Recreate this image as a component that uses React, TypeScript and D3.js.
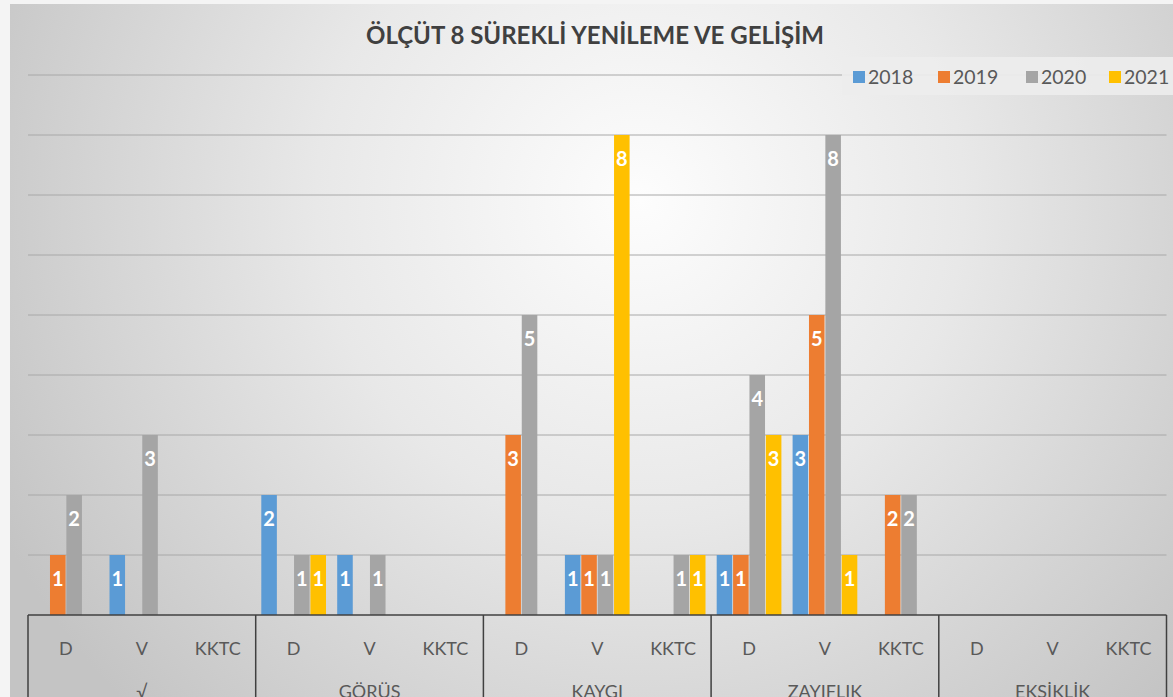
import React from "react";
import * as d3 from "d3";

const TITLE = "ÖLÇÜT 8 SÜREKLİ YENİLEME VE GELİŞİM";
const groups = ["√", "GÖRÜŞ", "KAYGI", "ZAYIFLIK", "EKSİKLİK"];
const subs = ["D", "V", "KKTC"];
const seriesNames = ["2018", "2019", "2020", "2021"];
const seriesColors = ["#5B9BD5", "#ED7D31", "#A5A5A5", "#FFC000"];

const s2018 = [null, 1, null, 2, 1, null, null, 1, null, 1, 3, null, null, null, null];
const s2019 = [1, null, null, null, null, null, 3, 1, null, 1, 5, 2, null, null, null];
const s2020 = [2, 3, null, 1, 1, null, 5, 1, 1, 4, 8, 2, null, null, null];
const s2021 = [null, null, null, 1, null, null, null, 8, 1, 3, 1, null, null, null, null];
const seriesValues = [s2018, s2019, s2020, s2021];
const yTicks = [1, 2, 3, 4, 5, 6, 7, 8, 9];

const W = 1173;
const H = 697;
const left = 28;
const right = 1166.5;
const baseY = 615;
const topY = 75;

export default function App() {
  const cats = groups.flatMap((g, gi) => subs.map((s, si) => `${gi}-${si}`));
  const x = d3.scaleBand<string>().domain(cats).range([left, right]).padding(0);
  const step = x.bandwidth();
  const xs = d3
    .scaleBand<string>()
    .domain(seriesNames)
    .range([5.6, step - 5.6])
    .paddingInner(0.05);
  const y = d3.scaleLinear().domain([0, 9]).range([baseY, topY]);
  const gx = d3.scaleBand<string>().domain(groups).range([left, right]).padding(0);

  const font = "Lato, 'Open Sans', sans-serif";

  return (
    <svg
      width={W}
      height={H}
      style={{ position: "absolute", left: 0, top: 0, display: "block" }}
    >
      <defs>
        <radialGradient id="bg" gradientUnits="userSpaceOnUse" cx={640} cy={200} r={720}>
          <stop offset="0" stopColor="#fdfdfd" />
          <stop offset="0.45" stopColor="#e8e8e8" />
          <stop offset="1" stopColor="#c4c4c4" />
        </radialGradient>
      </defs>
      <rect x={0} y={0} width={W} height={H} fill="#f4f4f4" />
      <rect x={10} y={4} width={W} height={H} fill="url(#bg)" />

      {/* gridlines */}
      {yTicks.map((t) => (
        <line
          key={t}
          x1={left}
          x2={right}
          y1={y(t)}
          y2={y(t)}
          stroke="#a8a8a8"
          strokeWidth={1}
        />
      ))}

      {/* title */}
      <text
        x={595}
        y={44}
        textAnchor="middle"
        fontFamily={font}
        fontWeight={700}
        fontSize={24}
        fill="#404040"
      >
        {TITLE}
      </text>

      {/* legend */}
      <rect x={842} y={57} width={340} height={38} fill="#ededed" opacity={0.92} />
      {seriesNames.map((n, i) => {
        const lx = [853, 938, 1026, 1109][i];
        return (
          <g key={n}>
            <rect x={lx} y={71} width={12} height={12} fill={seriesColors[i]} />
            <text x={lx + 15} y={84} fontFamily={font} fontSize={19.5} fill="#595959">
              {n}
            </text>
          </g>
        );
      })}

      {/* bars */}
      {seriesValues.map((vals, si) =>
        vals.map((v, ci) => {
          if (v == null) return null;
          const bx = (x(cats[ci]) as number) + (xs(seriesNames[si]) as number);
          const bw = xs.bandwidth();
          const top = y(v);
          return (
            <g key={`${si}-${ci}`}>
              <rect x={bx} y={top} width={bw} height={baseY - top} fill={seriesColors[si]} />
              <text
                x={bx + bw / 2}
                y={top + 30.5}
                textAnchor="middle"
                fontFamily={font}
                fontWeight={700}
                fontSize={20}
                fill="#ffffff"
              >
                {v}
              </text>
            </g>
          );
        })
      )}

      {/* axis */}
      <line x1={left} x2={right} y1={baseY} y2={baseY} stroke="#404040" strokeWidth={1.5} />
      {groups.map((g) => (
        <line
          key={g}
          x1={gx(g) as number}
          x2={gx(g) as number}
          y1={baseY}
          y2={H + 5}
          stroke="#404040"
          strokeWidth={1.5}
        />
      ))}
      <line x1={right} x2={right} y1={baseY} y2={H + 5} stroke="#404040" strokeWidth={1.5} />

      {cats.map((c, ci) => (
        <text
          key={c}
          x={(x(c) as number) + step / 2}
          y={655}
          textAnchor="middle"
          fontFamily={font}
          fontSize={18}
          fill="#595959"
        >
          {subs[ci % 3]}
        </text>
      ))}
      {groups.map((g) => (
        <text
          key={g}
          x={(gx(g) as number) + gx.bandwidth() / 2}
          y={698}
          textAnchor="middle"
          fontFamily={font}
          fontSize={18}
          fill="#595959"
        >
          {g}
        </text>
      ))}
    </svg>
  );
}
